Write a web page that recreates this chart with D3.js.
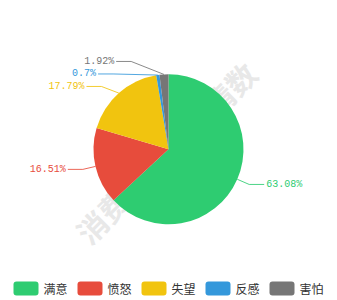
<!DOCTYPE html>
<html>
<head>
<meta charset="utf-8">
<script src="https://cdn.jsdelivr.net/npm/d3@7"></script>
<style>
  html, body { margin: 0; padding: 0; background: #fff; }
  svg { display: block; }
</style>
</head>
<body>
<svg id="chart" width="337" height="300"></svg>
<script>
// Sentiment shares (percent)
const categories = ["满意", "愤怒", "失望", "反感", "害怕"];
const values = [63.08, 16.51, 17.79, 0.7, 1.92];
const colors = ["#2ecc71", "#e74c3c", "#f1c40f", "#3498db", "#767676"];
const watermarkText = "消费者投诉舆情数";

const W = 337, H = 300;
const cx = 168.5, cy = 149.3, r = 75;
const len1 = 13, len2 = 15, textGap = 2;
const labelGap = 12.5;     // minimum vertical spacing between stacked labels
const semiB = 97;          // vertical semi-axis used to re-align shifted labels

const svg = d3.select("#chart");

// Faint diagonal watermark behind the pie
svg.append("text")
  .attr("transform", `translate(166,152.5) rotate(-45)`)
  .attr("text-anchor", "middle")
  .attr("dominant-baseline", "central")
  .attr("font-family", "'Noto Sans CJK SC', sans-serif")
  .attr("font-weight", 700)
  .attr("font-size", 30)
  .attr("fill", "#e8e8e8")
  .text(watermarkText);

const data = categories.map((c, i) => ({ name: c, value: values[i], color: colors[i] }));
const pie = d3.pie().value(d => d.value).sort(null);
const arcs = pie(data);
const arc = d3.arc().innerRadius(0).outerRadius(r);

const g = svg.append("g").attr("transform", `translate(${cx},${cy})`);
g.selectAll("path.slice")
  .data(arcs)
  .join("path")
  .attr("class", "slice")
  .attr("d", arc)
  .attr("fill", d => d.data.color);

// Outer labels with leader lines
const R = r + len1;
const items = arcs.map(a => {
  const mid = (a.startAngle + a.endAngle) / 2;
  const sx = Math.sin(mid), sy = -Math.cos(mid);
  return {
    a,
    side: sx < 0 ? -1 : 1,
    p0: [r * sx, r * sy],
    ex: R * sx,
    ey: R * sy,
    shifted: false
  };
});

// Push labels apart vertically on each side, then re-align x on an ellipse
[-1, 1].forEach(side => {
  const list = items.filter(it => it.side === side).sort((p, q) => p.ey - q.ey);
  for (let i = 1; i < list.length; i++) {
    const need = list[i - 1].ey + labelGap;
    if (list[i].ey < need) { list[i].ey = need; list[i].shifted = true; }
  }
  const anyShift = list.some(it => it.shifted);
  if (anyShift) {
    list.filter(it => it.ey < 0).forEach(it => {
      const dy = Math.abs(it.ey);
      const dx = R * Math.sqrt(Math.max(0, 1 - (dy * dy) / (semiB * semiB)));
      it.ex = side * dx;
    });
  }
});

const lg = g.append("g");
items.forEach(it => {
  const c = it.a.data.color;
  const endX = it.ex + it.side * len2;
  lg.append("path")
    .attr("d", d3.line()([it.p0, [it.ex, it.ey], [endX, it.ey]]))
    .attr("fill", "none")
    .attr("stroke", c)
    .attr("stroke-opacity", 0.85)
    .attr("stroke-width", 1);
  lg.append("text")
    .attr("x", endX + it.side * textGap)
    .attr("y", it.ey)
    .attr("text-anchor", it.side < 0 ? "end" : "start")
    .attr("dominant-baseline", "central")
    .attr("font-family", "'Liberation Mono', 'DejaVu Sans Mono', monospace")
    .attr("font-size", 10)
    .attr("fill", c)
    .text(it.a.data.value + "%");
});

// Legend
const step = 64, boxW = 25, boxH = 14;
const legendWidth = step * (data.length - 1) + 54;
const lx0 = (W - legendWidth) / 2;
const legendY = 288.5;
const leg = svg.append("g");
const li = leg.selectAll("g.item")
  .data(data)
  .join("g")
  .attr("class", "item")
  .attr("transform", (d, i) => `translate(${lx0 + i * step},${legendY})`);
li.append("rect")
  .attr("x", 0).attr("y", -boxH / 2)
  .attr("width", boxW).attr("height", boxH)
  .attr("rx", 3).attr("ry", 3)
  .attr("fill", d => d.color);
li.append("text")
  .attr("x", boxW + 5)
  .attr("y", 0)
  .attr("dominant-baseline", "central")
  .attr("font-family", "'Noto Sans CJK SC', sans-serif")
  .attr("font-size", 12)
  .attr("fill", "#333")
  .text(d => d.name);
</script>
</body>
</html>
